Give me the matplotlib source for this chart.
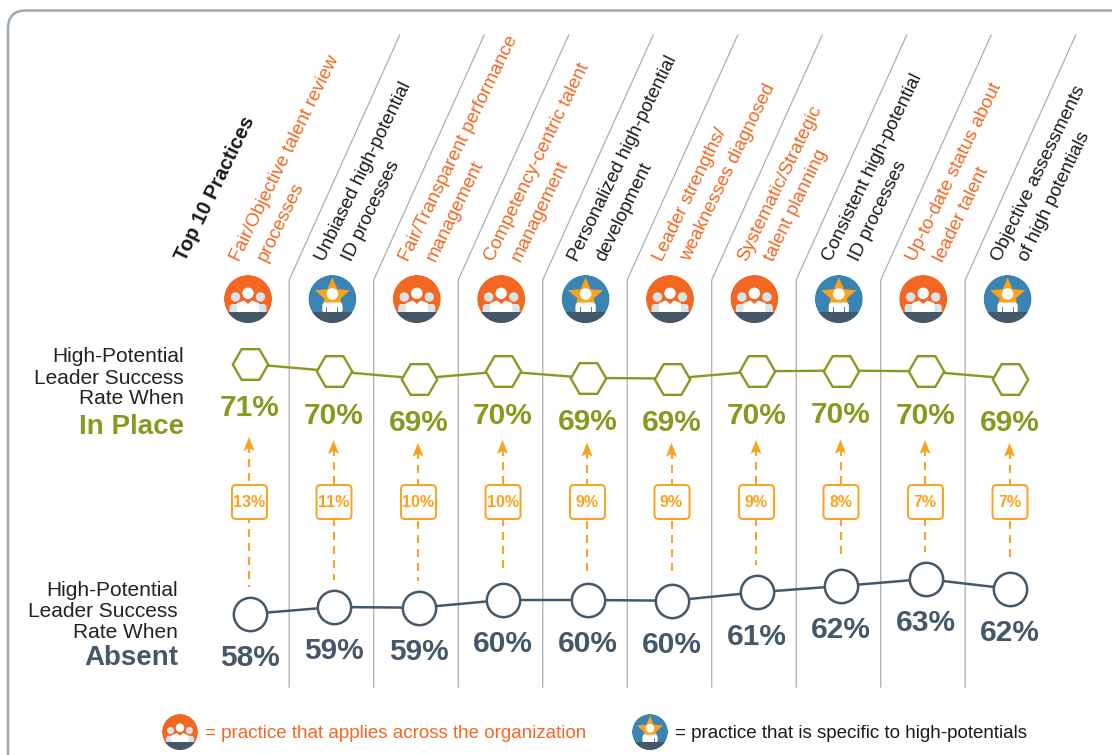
import numpy as np
import matplotlib
matplotlib.use('Agg')
import matplotlib.pyplot as plt
from matplotlib.patches import Circle, Polygon, Rectangle, FancyBboxPatch

plt.rcParams['font.family'] = ['Liberation Sans', 'DejaVu Sans']

practices = [('Fair/Objective talent review', 'processes'),
             ('Unbiased high-potential', 'ID processes'),
             ('Fair/Transparent performance', 'management'),
             ('Competency-centric talent', 'management'),
             ('Personalized high-potential', 'development'),
             ('Leader strengths/', 'weaknesses diagnosed'),
             ('Systematic/Strategic', 'talent planning'),
             ('Consistent high-potential', 'ID processes'),
             ('Up-to-date status about', 'leader talent'),
             ('Objective assessments', 'of high potentials')]
org_wide = [True, False, True, True, False, True, True, False, True, False]
in_place = [71, 70, 69, 70, 69.1, 69, 70, 70.1, 70, 69]
absent = [58, 59, 58.9, 60, 60, 59.9, 61.1, 62, 63, 61.6]
gaps = [13, 11, 10, 10, 9, 9, 9, 8, 7, 7]

ORANGE = '#F26722'
GOLD = '#FAA21B'
BLUE = '#3A83B5'
SLATE = '#44586A'
OLIVE = '#879A1F'
RULE = '#A3AFBB'
W, H = 1112, 755
X0, STEP = 249.5, 84.5
SLANT = 64


def series_axes(fig, v_ref, y_ref, px_per_unit):
    ax = fig.add_axes([0, 0, 1, 1], facecolor='none')
    ax.set_xlim(-X0 / STEP, (W - X0) / STEP)
    ax.set_ylim(v_ref - (H - y_ref) / px_per_unit, v_ref + y_ref / px_per_unit)
    ax.axis('off')
    return ax


def to_px(ax, i, v):
    return bg.transData.inverted().transform(ax.transData.transform((i, v)))


def draw_icon(ax, cx, cy, r, wide):
    k = r / 24
    clip = Circle((cx, cy), r, transform=ax.transData)
    parts = [Circle((cx, cy), r, fc=ORANGE if wide else BLUE, ec='none')]
    if wide:
        for s in (-1, 1):
            parts.append(Circle((cx + s * 12.5 * k, cy - 2 * k), 4.7 * k, fc='#DBE3E6', ec='none'))
            parts.append(FancyBboxPatch((cx + s * 12.5 * k - 6 * k, cy + 5 * k), 12 * k, 12 * k,
                                        boxstyle='round,pad=0,rounding_size=%f' % (3 * k),
                                        fc='#DBE3E6', ec='none'))
        parts.append(Circle((cx, cy - 5.7 * k), 5.7 * k, fc='white', ec='none'))
        parts.append(Polygon([(cx - 11 * k, cy + 4 * k), (cx - 4 * k, cy + 1.5 * k), (cx, cy + 5 * k),
                              (cx + 4 * k, cy + 1.5 * k), (cx + 11 * k, cy + 4 * k),
                              (cx + 11 * k, cy + 14 * k), (cx - 11 * k, cy + 14 * k)],
                             fc='white', ec='none'))
    else:
        ang = np.pi / 2 + np.arange(10) * np.pi / 5
        rad = np.where(np.arange(10) % 2 == 0, 18.5, 8.5) * k
        parts.append(Polygon(np.c_[cx + rad * np.cos(ang), cy - 3 * k - rad * np.sin(ang)],
                             fc=GOLD, ec='none'))
        parts.append(Circle((cx, cy - 5 * k), 5.8 * k, fc='white', ec='none'))
        parts.append(FancyBboxPatch((cx - 10 * k, cy + 3.5 * k), 20 * k, 11 * k,
                                    boxstyle='round,pad=0,rounding_size=%f' % (3 * k),
                                    fc='white', ec='none'))
        for s in (-1, 1):
            parts.append(Rectangle((cx + s * 5.5 * k - 0.5 * k, cy + 8 * k), 1 * k, 6 * k, fc=BLUE, ec='none'))
    parts.append(Rectangle((cx - r, cy + 12.7 * k), 2 * r, r, fc=SLATE, ec='none'))
    for p in parts:
        ax.add_patch(p)
        p.set_clip_path(clip)


fig = plt.figure(figsize=(W / 100, H / 100), dpi=100)
bg = fig.add_axes([0, 0, 1, 1])
bg.set_xlim(0, W)
bg.set_ylim(H, 0)
bg.axis('off')
top = series_axes(fig, 71, 364, 7.3)
bot = series_axes(fig, 58, 614, 7.0)

# outer frame, runs off the right and bottom edges
frame = FancyBboxPatch((8, 10.5), 1200, 770, boxstyle='round,pad=0,rounding_size=18',
                       fc='none', ec='#9AA8B4', lw=1.8)
bg.add_patch(frame)

# column rules
for k in range(9):
    x = X0 + STEP * (k + 0.47)
    bg.plot([x, x, x + 110.5], [687, 280, 35], color=RULE, lw=0.9, solid_joinstyle='miter')

bg.text(172, 256, 'Top 10 Practices', rotation=SLANT, rotation_mode='anchor', ha='left', va='top',
        fontsize=14.5, fontweight='bold', color='#1A1A1A')

columns = np.arange(len(practices))
for i in columns:
    x = X0 + STEP * i
    col = ORANGE if org_wide[i] else '#1A1A1A'
    bg.text(x - 21.5, 257, practices[i][0], rotation=SLANT, rotation_mode='anchor', ha='left', va='top',
            fontsize=13.6, color=col)
    bg.text(x + 5.5, 257, practices[i][1], rotation=SLANT, rotation_mode='anchor', ha='left', va='top',
            fontsize=13.6, color=col)
    draw_icon(bg, x - 1.5 - 0.1 * i, 299, 24, org_wide[i])

    # dashed arrow between the two rates
    ytop = to_px(top, i, in_place[i])[1]
    tip = 437 + (ytop - 364) * 0.4
    tail = to_px(bot, i, absent[i])[1] - 27
    bg.plot([x - 0.5, x - 0.5], [tip + 8, tail], color=GOLD, lw=1.4, dashes=(4.1, 3.1))
    bg.add_patch(Polygon([(x - 0.5, tip), (x + 5, tip + 14), (x - 0.5, tip + 11), (x - 6, tip + 14)],
                         fc=GOLD, ec='none'))
    bg.add_patch(FancyBboxPatch((x - 17.5, 485), 35, 34, boxstyle='round,pad=0,rounding_size=4',
                                fc='white', ec=GOLD, lw=1.4, zorder=3))
    bg.text(x - 0.5, 502.5, '%d%%' % gaps[i], ha='center', va='center', fontsize=11.5, fontweight='bold',
            color=GOLD, zorder=4)

top.plot(columns, in_place, '-H', color=OLIVE, lw=1.7, ms=25.5, mew=1.7, mfc='white', clip_on=False)
bot.plot(columns, absent, '-o', color=SLATE, lw=1.8, ms=24, mew=1.8, mfc='white', clip_on=False)

for i in columns:
    top.annotate('%d%%' % round(in_place[i]), (i, in_place[i]), xytext=(0, -32), textcoords='offset points',
                 ha='center', va='center', fontsize=21.5, fontweight='bold', color=OLIVE)
    bot.annotate('%d%%' % round(absent[i]), (i, absent[i]), xytext=(0, -32), textcoords='offset points',
                 ha='center', va='center', fontsize=21.5, fontweight='bold', color=SLATE)

# row captions
for y, s in zip([357, 378, 399], ['High-Potential', 'Leader Success', 'Rate When']):
    bg.text(184, y, s, ha='right', va='center', fontsize=15, color='#222222')
bg.text(184, 427, 'In Place', ha='right', va='center', fontsize=20, fontweight='bold', color=OLIVE)
for y, s in zip([590.5, 611.5, 632.5], ['High-Potential', 'Leader Success', 'Rate When']):
    bg.text(178, y, s, ha='right', va='center', fontsize=15, color='#222222')
bg.text(178, 658, 'Absent', ha='right', va='center', fontsize=20, fontweight='bold', color=SLATE)

# key
draw_icon(bg, 180, 732, 18, True)
bg.text(205, 733.5, '= practice that applies across the organization', ha='left', va='center',
        fontsize=13.5, color=ORANGE)
draw_icon(bg, 650, 732, 18, False)
bg.text(675, 733.5, '= practice that is specific to high-potentials', ha='left', va='center',
        fontsize=13.5, color='#1A1A1A')

fig.savefig('out.png', dpi=100)
